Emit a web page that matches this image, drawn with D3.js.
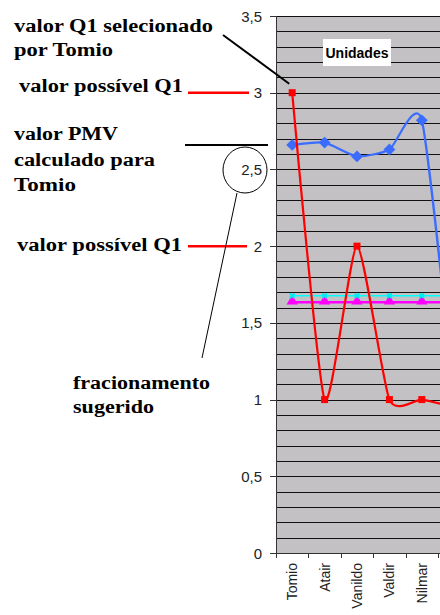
<!DOCTYPE html>
<html>
<head>
<meta charset="utf-8">
<script src="https://cdn.jsdelivr.net/npm/d3@7"></script>
<style>
  body { margin: 0; background: #fff; }
  svg { display: block; }
</style>
</head>
<body>
<svg width="440" height="615"></svg>
<script>
// chart values
var categories = ["Tomio", "Atair", "Vanildo", "Valdir", "Nilmar", " "];
var q1Selected = [3, 1, 2, 1, 1, 0.95];
var pmvValues = [2.66, 2.675, 2.585, 2.63, 2.82, 1.0];
var fracMagenta = [1.635, 1.635, 1.635, 1.635, 1.635, 1.635];
var fracCyan = [1.677, 1.677, 1.677, 1.677, 1.677, 1.677];
var yTickValues = [0, 0.5, 1, 1.5, 2, 2.5, 3, 3.5];

var svg = d3.select("svg");
var plotTop = 16, plotBottom = 553, plotLeft = 276;

var x = d3.scaleBand()
    .domain(categories)
    .range([plotLeft, plotLeft + 32.4 * categories.length]);

var y = d3.scaleLinear()
    .domain([0, 3.5])
    .range([plotBottom, plotTop]);

// gray plot area
svg.append("rect")
    .attr("x", plotLeft).attr("y", plotTop)
    .attr("width", x.range()[1] - plotLeft)
    .attr("height", plotBottom - plotTop)
    .attr("fill", "#c3c1c3");

// black gridlines every 0.1
svg.append("g")
    .selectAll("line")
    .data(y.ticks(35))
    .enter().append("line")
    .attr("x1", plotLeft).attr("x2", x.range()[1])
    .attr("y1", function (d) { return Math.round(y(d)) + 0.5; })
    .attr("y2", function (d) { return Math.round(y(d)) + 0.5; })
    .attr("stroke", "#111")
    .attr("stroke-width", 1);

// y axis
var fmt = function (d) { return String(d).replace(".", ","); };
var yAxis = svg.append("g");
yAxis.append("line")
    .attr("x1", plotLeft + 0.5).attr("x2", plotLeft + 0.5)
    .attr("y1", plotTop).attr("y2", plotBottom + 1)
    .attr("stroke", "#333");
yAxis.selectAll(".tick")
    .data(yTickValues)
    .enter().append("line")
    .attr("x1", plotLeft - 6).attr("x2", plotLeft)
    .attr("y1", function (d) { return Math.round(y(d)) + 0.5; })
    .attr("y2", function (d) { return Math.round(y(d)) + 0.5; })
    .attr("stroke", "#333");
yAxis.selectAll("text")
    .data(yTickValues)
    .enter().append("text")
    .attr("x", 262)
    .attr("y", function (d) { return y(d) + 5.5; })
    .attr("text-anchor", "end")
    .attr("font-family", "Liberation Sans, Arial, sans-serif")
    .attr("font-size", 15)
    .attr("fill", "#222")
    .text(fmt);

// x axis, ticks on band edges
var xAxis = svg.append("g");
xAxis.append("line")
    .attr("x1", plotLeft).attr("x2", x.range()[1])
    .attr("y1", plotBottom + 0.5).attr("y2", plotBottom + 0.5)
    .attr("stroke", "#333");
xAxis.selectAll("line.t")
    .data(categories)
    .enter().append("line")
    .attr("class", "t")
    .attr("x1", function (d) { return Math.round(x(d)) + 0.5; })
    .attr("x2", function (d) { return Math.round(x(d)) + 0.5; })
    .attr("y1", plotBottom).attr("y2", plotBottom + 5)
    .attr("stroke", "#333");
xAxis.selectAll("text")
    .data(categories)
    .enter().append("text")
    .attr("transform", function (d) {
        return "translate(" + (x(d) + x.bandwidth() / 2 + 5) + "," + 563 + ") rotate(-90)";
    })
    .attr("text-anchor", "end")
    .attr("font-family", "Liberation Sans, Arial, sans-serif")
    .attr("font-size", 14)
    .attr("fill", "#222")
    .text(function (d) { return d; });

// series lines (smoothed like the spreadsheet)
function cx(i) { return x(categories[i]) + x.bandwidth() / 2; }
var line = d3.line()
    .x(function (d, i) { return cx(i); })
    .y(function (d) { return y(d); })
    .curve(d3.curveCardinal.tension(0.4));
var straight = d3.line()
    .x(function (d, i) { return cx(i); })
    .y(function (d) { return y(d); });

svg.append("path").datum(fracMagenta)
    .attr("d", straight).attr("fill", "none")
    .attr("stroke", "#ff00ff").attr("stroke-width", 2.5);
svg.selectAll(".tri")
    .data(fracMagenta)
    .enter().append("path")
    .attr("class", "tri")
    .attr("d", d3.symbol().type(d3.symbolTriangle).size(55))
    .attr("transform", function (d, i) { return "translate(" + cx(i) + "," + (y(d) - 1) + ")"; })
    .attr("fill", "#ff00ff");

svg.append("path").datum(fracCyan)
    .attr("d", straight).attr("fill", "none")
    .attr("stroke", "#00ffff").attr("stroke-width", 1.5);
svg.selectAll(".cx")
    .data(fracCyan)
    .enter().append("path")
    .attr("class", "cx")
    .attr("d", d3.symbol().type(d3.symbolCross).size(22))
    .attr("transform", function (d, i) { return "translate(" + cx(i) + "," + y(d) + ") rotate(45)"; })
    .attr("fill", "#00e8f0");

svg.append("path").datum(pmvValues)
    .attr("d", line).attr("fill", "none")
    .attr("stroke", "#3a6cff").attr("stroke-width", 2.2);
svg.selectAll(".dia")
    .data(pmvValues)
    .enter().append("path")
    .attr("class", "dia")
    .attr("d", d3.symbol().type(d3.symbolSquare).size(70))
    .attr("transform", function (d, i) { return "translate(" + cx(i) + "," + y(d) + ") rotate(45)"; })
    .attr("fill", "#3a6cff");

svg.append("path").datum(q1Selected)
    .attr("d", line).attr("fill", "none")
    .attr("stroke", "#ff0000").attr("stroke-width", 2.2);
svg.selectAll(".sq")
    .data(q1Selected)
    .enter().append("rect")
    .attr("class", "sq")
    .attr("x", function (d, i) { return cx(i) - 3.5; })
    .attr("y", function (d) { return y(d) - 3.5; })
    .attr("width", 7).attr("height", 7)
    .attr("fill", "#ff0000");

// "Unidades" box
svg.append("rect")
    .attr("x", 323).attr("y", 39).attr("width", 68).attr("height", 27)
    .attr("fill", "#fff");
svg.append("text")
    .attr("x", 357).attr("y", 58)
    .attr("text-anchor", "middle")
    .attr("font-family", "Liberation Sans, Arial, sans-serif")
    .attr("font-weight", "bold")
    .attr("font-size", 14)
    .text("Unidades");

// annotations on the left
var notes = [
    { t: "valor Q1 selecionado", x: 14, y: 32, w: 199 },
    { t: "por Tomio", x: 14, y: 56, w: 99 },
    { t: "valor possível Q1", x: 19, y: 92, w: 164 },
    { t: "valor PMV", x: 14, y: 140, w: 104 },
    { t: "calculado para", x: 14, y: 166, w: 141 },
    { t: "Tomio", x: 14, y: 191, w: 62 },
    { t: "valor possível Q1", x: 17, y: 251, w: 165 },
    { t: "fracionamento", x: 73, y: 389, w: 137 },
    { t: "sugerido", x: 73, y: 413, w: 81 }
];
svg.append("g").selectAll("text")
    .data(notes)
    .enter().append("text")
    .attr("x", function (d) { return d.x; })
    .attr("y", function (d) { return d.y; })
    .attr("textLength", function (d) { return d.w; })
    .attr("lengthAdjust", "spacingAndGlyphs")
    .attr("font-family", "Liberation Serif, Times New Roman, serif")
    .attr("font-weight", "bold")
    .attr("font-size", 18)
    .attr("fill", "#000")
    .text(function (d) { return d.t; });

// pointer lines
svg.append("line").attr("x1", 188).attr("x2", 249)
    .attr("y1", y(3)).attr("y2", y(3))
    .attr("stroke", "#ff0000").attr("stroke-width", 2.5);
svg.append("line").attr("x1", 188).attr("x2", 247)
    .attr("y1", y(2)).attr("y2", y(2))
    .attr("stroke", "#ff0000").attr("stroke-width", 2.5);
svg.append("line").attr("x1", 185).attr("x2", 268)
    .attr("y1", 145).attr("y2", 145)
    .attr("stroke", "#000").attr("stroke-width", 2);
svg.append("line").attr("x1", 223).attr("y1", 35)
    .attr("x2", cx(0) - 3).attr("y2", y(3) - 9)
    .attr("stroke", "#000").attr("stroke-width", 2);

// circle round the 2,5 label
svg.append("ellipse")
    .attr("cx", 245).attr("cy", 170).attr("rx", 22).attr("ry", 23)
    .attr("fill", "none").attr("stroke", "#000").attr("stroke-width", 1);
svg.append("line").attr("x1", 237).attr("y1", 193)
    .attr("x2", 202).attr("y2", 358)
    .attr("stroke", "#000").attr("stroke-width", 1);
</script>
</body>
</html>
